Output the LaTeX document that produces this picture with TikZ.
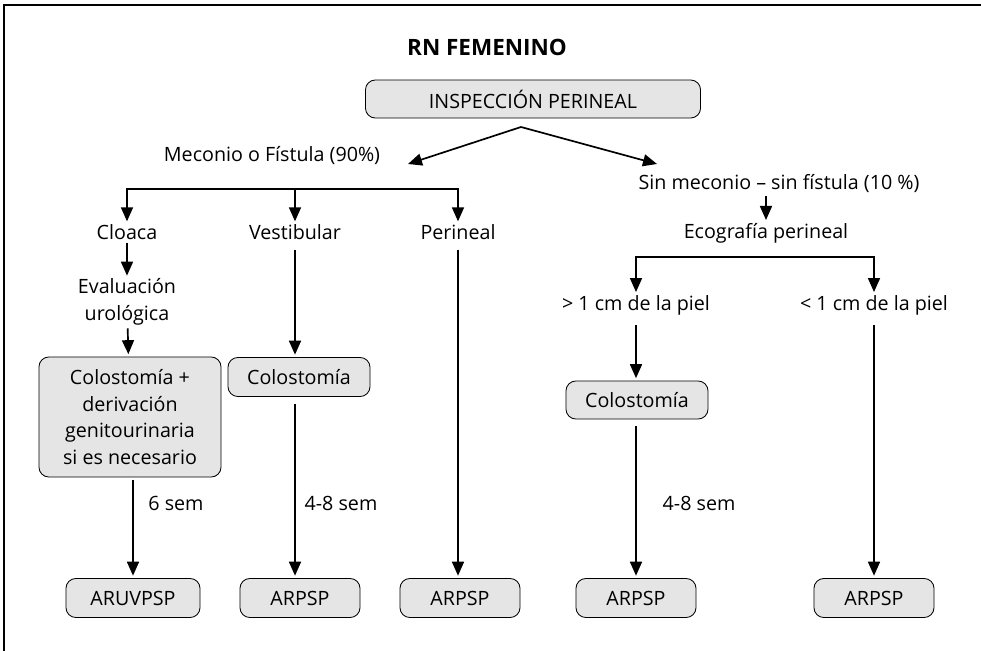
\documentclass[tikz,border=0pt]{standalone}
\usepackage{fontspec}
\setmainfont{Open Sans}
\usetikzlibrary{arrows.meta}

\definecolor{boxgray}{gray}{0.9}
\tikzset{
  flowbox/.style={draw, rounded corners=7pt, fill=boxgray, line width=0.6pt, align=center, inner sep=2pt, outer sep=2pt},
  lbl/.style={align=center, inner sep=2pt},
  flow/.style={line width=1.2pt, -{Triangle[length=3.5mm,width=3mm]}},
}

\begin{document}
\begin{tikzpicture}[x=0.025cm, y=-0.025cm, font=\fontsize{14}{19}\selectfont]
    \useasboundingbox (0,0) rectangle (981,651);
    \draw [line width=1.2pt] (4,651) -- (4,5) -- (981,5);

    % top
    \node [font=\bfseries\fontsize{16}{19}\selectfont] (title) at (487,47) {RN FEMENINO};
    \node [flowbox, minimum width=8.375cm, minimum height=0.95cm] (insp) at (533,99) {INSPECCIÓN PERINEAL};
    \coordinate (split) at (521,127);
    \node [lbl] (meconio) at (272,156) {Meconio o Fístula (90\%)};
    \node [lbl] (sinmec) at (779,184) {Sin meconio -- sin fístula (10 \%)};
    \coordinate (mtip) at (408,164);
    \coordinate (stip) at (657,164);
    \draw [flow] (split) -- (mtip);
    \draw [flow] (split) -- (stip);

    % left branch
    \coordinate (lbar) at (295,189);
    \node [lbl] (cloaca) at (127,232) {Cloaca};
    \node [lbl] (vest) at (295,232) {Vestibular};
    \node [lbl] (perin) at (458,232) {Perineal};
    \draw [flow] (lbar) -| (cloaca);
    \draw [flow] (lbar) -- (vest);
    \draw [flow] (lbar) -| (perin);

    \node [lbl] (evalu) at (127,302) {Evaluación\\urológica};
    \node [flowbox, minimum width=4.55cm, minimum height=3cm] (colc) at (130,417) {Colostomía +\\derivación\\genitourinaria\\si es necesario};
    \node [flowbox, minimum width=3.55cm, minimum height=0.975cm] (colv) at (299,377) {Colostomía};
    \draw [flow] (cloaca) -- (evalu);
    \draw [flow] (evalu) -- (colc);
    \draw [flow, shorten <=5pt] (vest) -- (vest |- colv.north);

    % right branch
    \node [lbl] (eco) at (766,233) {Ecografía perineal};
    \draw [flow] (sinmec.south -| eco.north) -- (eco);
    \coordinate (rbar) at (757,257);
    \node [lbl] (gt) at (636,305) {> 1 cm de la piel};
    \node [lbl] (lt) at (874,305) {< 1 cm de la piel};
    \draw [flow] (rbar) -| (gt);
    \draw [flow] (rbar) -| (lt);
    \node [flowbox, minimum width=3.55cm, minimum height=0.95cm] (colr) at (637,400) {Colostomía};
    \draw [flow, shorten <=5pt] (gt) -- (gt |- colr.north);

    % bottom row
    \node [flowbox, minimum width=3.35cm, minimum height=0.975cm] (aruv) at (133,598) {ARUVPSP};
    \node [flowbox, minimum width=3cm, minimum height=0.975cm] (arp1) at (300,598) {ARPSP};
    \node [flowbox, minimum width=3cm, minimum height=0.975cm] (arp2) at (460,598) {ARPSP};
    \node [flowbox, minimum width=3cm, minimum height=0.975cm] (arp3) at (636,598) {ARPSP};
    \node [flowbox, minimum width=3cm, minimum height=0.975cm] (arp4) at (874,598) {ARPSP};

    \draw [flow] (colc.south -| aruv.north) -- (aruv);
    \draw [flow, shorten <=3pt] (colv.south -| vest.south) -- (vest |- arp1.north);
    \draw [flow, shorten <=5pt] (perin) -- (perin |- arp2.north);
    \draw [flow, shorten <=3pt] (colr.south -| gt.south) -- (gt |- arp3.north);
    \draw [flow, shorten <=5pt] (lt) -- (lt |- arp4.north);

    \node [lbl] (sem6) at (176,503) {6 sem};
    \node [lbl] (sem48a) at (341,503) {4-8 sem};
    \node [lbl] (sem48b) at (699,503) {4-8 sem};
\end{tikzpicture}
\end{document}
